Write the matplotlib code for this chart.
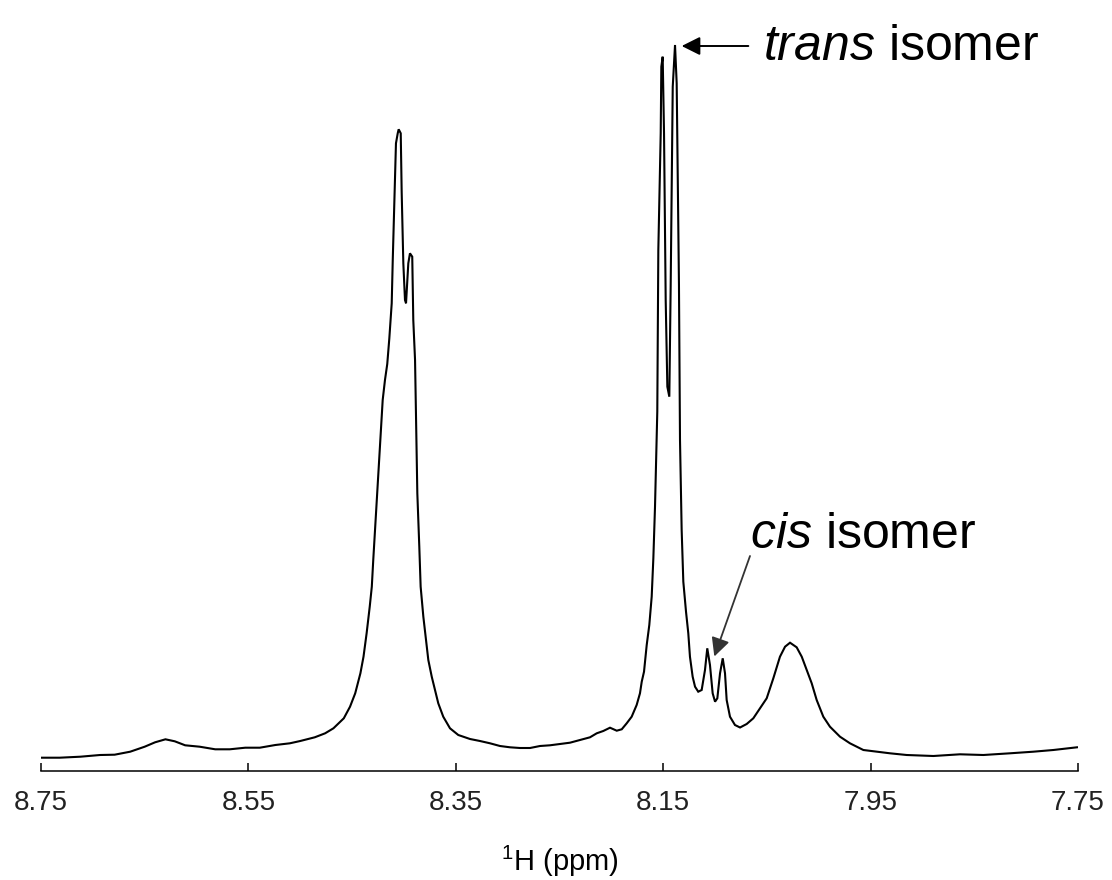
import matplotlib
matplotlib.use("Agg")
import matplotlib.pyplot as plt

plt.rcParams['font.family'] = ['Liberation Sans', 'DejaVu Sans']
plt.rcParams['mathtext.fontset'] = 'custom'
plt.rcParams['mathtext.rm'] = 'Liberation Sans'
plt.rcParams['mathtext.it'] = 'Liberation Sans:italic'

# chemical shift (ppm) and intensity (a.u.)
ppm = [8.750, 8.732, 8.712, 8.693, 8.679, 8.664, 8.650, 8.640, 8.630, 8.621,
       8.611, 8.597, 8.582, 8.568, 8.553, 8.539, 8.524, 8.510, 8.500, 8.486,
       8.476, 8.468, 8.458, 8.452, 8.447, 8.442, 8.439, 8.436, 8.433, 8.431,
       8.4296, 8.4279, 8.4257, 8.4238, 8.4221, 8.4205, 8.4183, 8.4161, 8.4141, 8.4118,
       8.4108, 8.4093, 8.4077, 8.4060, 8.4051, 8.4031, 8.4022, 8.4006, 8.3990, 8.3980,
       8.3958, 8.3942, 8.3920, 8.3910, 8.3893, 8.3884, 8.3871, 8.3852, 8.3839, 8.3813,
       8.3787, 8.3765, 8.3732, 8.3701, 8.3669, 8.3621, 8.3556, 8.3476, 8.3363, 8.3267,
       8.3170, 8.3074, 8.2977, 8.2881, 8.2784, 8.2688, 8.2592, 8.2495, 8.2399, 8.2302,
       8.2206, 8.2141, 8.2078, 8.2013, 8.1948, 8.1900, 8.1852, 8.1804, 8.1756, 8.1724,
       8.1707, 8.1685, 8.1659, 8.1634, 8.1611, 8.1595, 8.1579, 8.1557, 8.1547, 8.1524,
       8.1518, 8.1505, 8.1492, 8.1476, 8.1460, 8.1441, 8.1428, 8.1408, 8.1386, 8.1370,
       8.1348, 8.1338, 8.1322, 8.1306, 8.1280, 8.1258, 8.1242, 8.1216, 8.1193, 8.1162,
       8.1129, 8.1097, 8.1075, 8.1049, 8.1023, 8.1000, 8.0978, 8.0952, 8.0926, 8.0904,
       8.0888, 8.0856, 8.0808, 8.0759, 8.0695, 8.0631, 8.0566, 8.0502, 8.0438, 8.0374,
       8.0325, 8.0277, 8.0213, 8.0164, 8.0116, 8.0068, 8.0020, 7.9956, 7.9892, 7.9795,
       7.9699, 7.9570, 7.9441, 7.9313, 7.9152, 7.8895, 7.8638, 7.8413, 7.8156, 7.7931,
       7.7738, 7.7510]
intensity = [1.33, 1.33, 1.43, 1.60, 1.63, 1.93, 2.43, 2.87, 3.17, 2.97,
             2.57, 2.43, 2.17, 2.17, 2.33, 2.33, 2.60, 2.77, 3.00, 3.37,
             3.77, 4.27, 5.27, 6.43, 7.77, 9.77, 11.43, 13.77, 16.43, 18.43,
             21.10, 24.10, 27.93, 31.43, 34.43, 37.10, 39.10, 40.70, 43.27, 46.77,
             51.10, 56.77, 62.77, 63.77, 64.17, 63.77, 57.93, 50.77, 47.10, 46.77,
             50.77, 51.77, 51.43, 45.10, 41.10, 35.77, 27.77, 22.43, 18.43, 15.43,
             13.10, 11.10, 9.43, 8.10, 6.77, 5.43, 4.27, 3.60, 3.20, 3.00,
             2.77, 2.50, 2.37, 2.30, 2.30, 2.50, 2.57, 2.70, 2.83, 3.10,
             3.37, 3.77, 4.00, 4.33, 4.03, 4.17, 4.77, 5.43, 6.60, 7.77,
             8.93, 9.93, 12.60, 14.60, 17.43, 21.27, 26.43, 35.93, 52.10, 63.77,
             70.43, 71.43, 63.77, 47.10, 38.43, 37.43, 48.43, 68.43, 72.60, 68.77,
             48.60, 33.10, 24.10, 18.93, 15.93, 13.77, 11.43, 9.43, 8.43, 7.93,
             8.10, 10.10, 12.27, 10.60, 7.77, 6.93, 7.27, 9.77, 11.27, 9.77,
             7.10, 5.43, 4.60, 4.35, 4.70, 5.27, 6.27, 7.27, 9.27, 11.43,
             12.43, 12.83, 12.37, 11.43, 10.10, 8.77, 7.10, 5.43, 4.43, 3.43,
             2.77, 2.10, 1.93, 1.77, 1.60, 1.50, 1.67, 1.60, 1.77, 1.93,
             2.10, 2.37]

xticks = [8.75, 8.55, 8.35, 8.15, 7.95, 7.75]
xtick_labels = ["8.75", "8.55", "8.35", "8.15", "7.95", "7.75"]

fig = plt.figure(figsize=(11.12, 8.8), dpi=100)
ax = fig.add_axes([41 / 1112, 1 - 771 / 880, 1037 / 1112, 771 / 880])
ax.plot(ppm, intensity, color='black', lw=1.5, solid_joinstyle='miter')
ax.set_xlim(8.75, 7.75)
ax.set_ylim(0, 77.1)

for s in ['top', 'left', 'right']:
    ax.spines[s].set_visible(False)
ax.spines['bottom'].set_linewidth(1.1)
ax.set_yticks([])
ax.set_xticks(xticks)
ax.set_xticklabels(xtick_labels)
ax.tick_params(axis='x', direction='in', length=6, width=1.1, pad=14,
               labelsize=20, labelcolor='#222222')
ax.set_xlabel(r"$^{1}$H (ppm)", fontsize=21, labelpad=20)
ax.patch.set_visible(False)

# annotations
ax.annotate('', xy=(8.1322, 72.5), xytext=(8.0679, 72.5),
            arrowprops=dict(arrowstyle='-|>', color='black', lw=1.4,
                            mutation_scale=28, shrinkA=0, shrinkB=0))
ax.text(8.0538, 71.1, r'$\mathit{trans}$ isomer', fontsize=36, va='baseline', ha='left')

ax.annotate('', xy=(8.1007, 11.45), xytext=(8.0663, 21.5),
            arrowprops=dict(arrowstyle='-|>', color='#333333', lw=1.3,
                            mutation_scale=28, shrinkA=0, shrinkB=0))
ax.text(8.0660, 22.3, r'$\mathit{cis}$ isomer', fontsize=36, va='baseline', ha='left')

fig.savefig('out.png', dpi=100, facecolor='white')
